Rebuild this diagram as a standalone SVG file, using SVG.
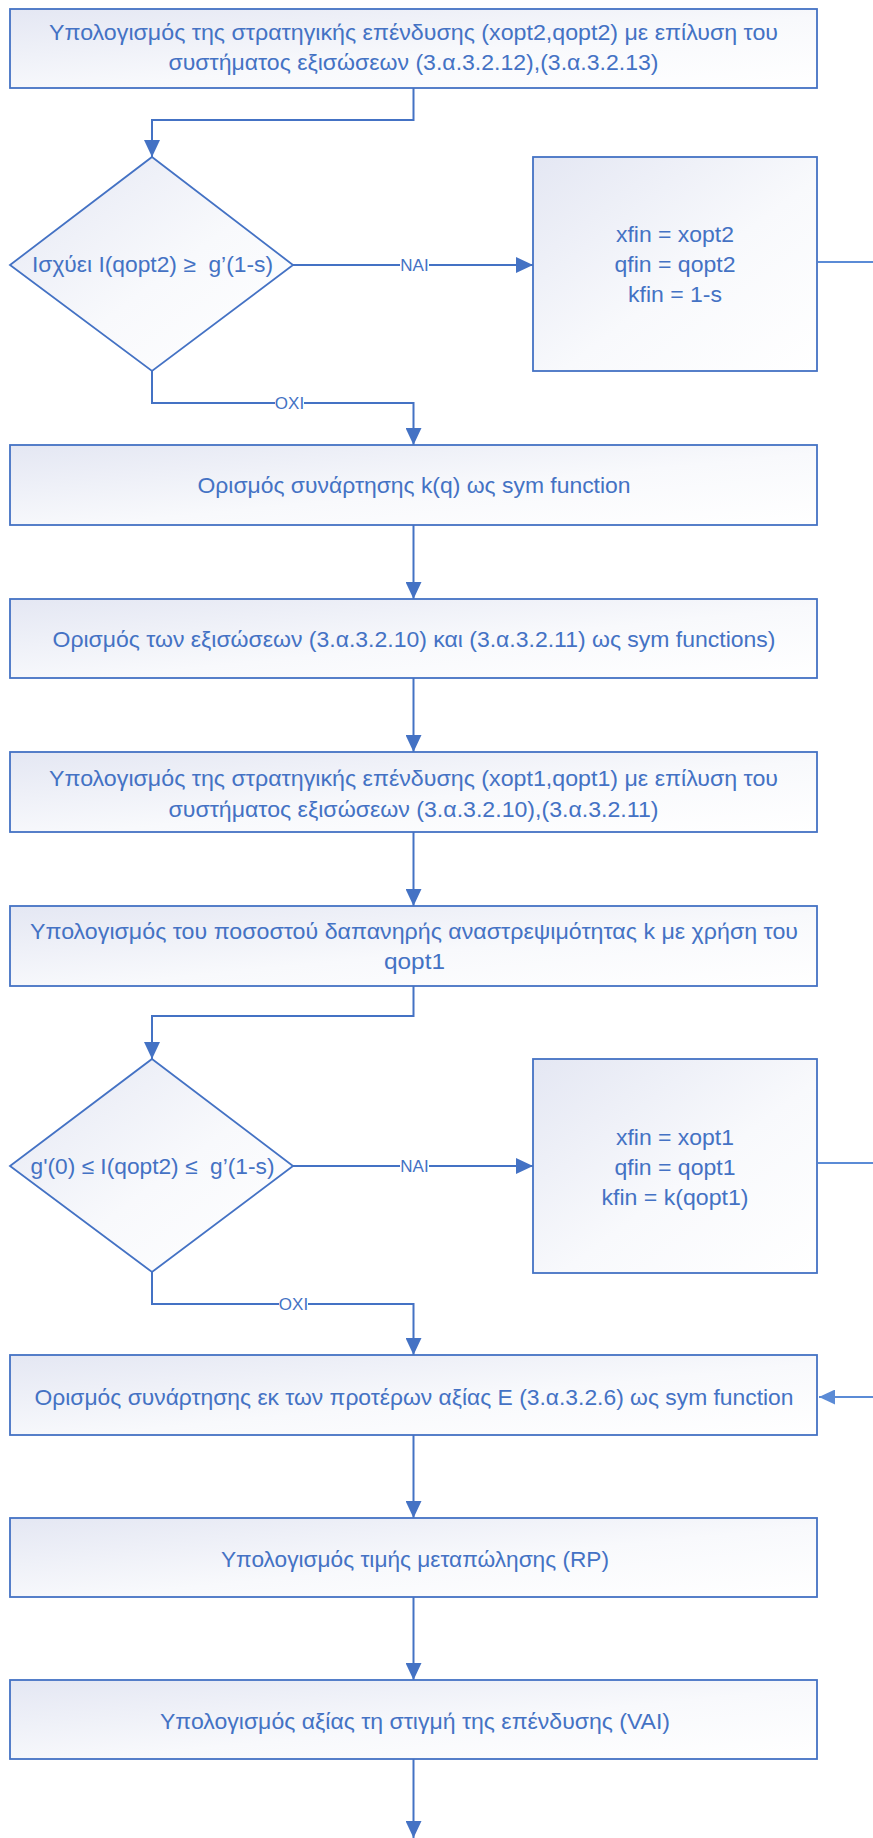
<svg xmlns="http://www.w3.org/2000/svg" width="873" height="1838" viewBox="0 0 873 1838">
  <style>
    .box { fill: url(#fillGrad); stroke: #4472C4; stroke-width: 1.8; }
    .txt { font-family: "Liberation Sans", Arial, sans-serif; font-size: 22px; fill: #4472C4; text-anchor: middle; white-space: pre; }
    .lbl { font-family: "Liberation Sans", Arial, sans-serif; font-size: 17px; fill: #4472C4; text-anchor: middle; }
    .lblbg { fill: #ffffff; }
    .edge { fill: none; stroke: #4472C4; stroke-width: 2; }
    .edge-out { fill: none; stroke: #5B8BD6; stroke-width: 2.2; }
  </style>
  <defs>
    <linearGradient id="fillGrad" x1="0" y1="0" x2="1" y2="1">
      <stop offset="0" stop-color="#e4e7f3"/>
      <stop offset="0.55" stop-color="#f8f9fc"/>
      <stop offset="1" stop-color="#ffffff"/>
    </linearGradient>
    <marker id="arrow" markerUnits="userSpaceOnUse" markerWidth="17" markerHeight="16" refX="17" refY="8" orient="auto">
      <path d="M0,0 L17,8 L0,16 z" fill="#4472C4"/>
    </marker>
    <marker id="arrowOut" markerUnits="userSpaceOnUse" markerWidth="16" markerHeight="15" refX="16" refY="7.5" orient="auto">
      <path d="M0,0 L16,7.5 L0,15 z" fill="#5B8BD6"/>
    </marker>
  </defs>

  <rect width="873" height="1838" fill="#ffffff"/>

  <!-- connectors -->
  <g id="connectors">
    <path class="edge" d="M413.5,88 V120 H152 V157" marker-end="url(#arrow)"/>
    <path class="edge" d="M293,265 H533" marker-end="url(#arrow)"/>
    <path class="edge" d="M152,371 V403 H413.5 V445" marker-end="url(#arrow)"/>
    <path class="edge" d="M413.5,525 V599" marker-end="url(#arrow)"/>
    <path class="edge" d="M413.5,678 V752" marker-end="url(#arrow)"/>
    <path class="edge" d="M413.5,832 V906" marker-end="url(#arrow)"/>
    <path class="edge" d="M413.5,986 V1016 H152 V1059" marker-end="url(#arrow)"/>
    <path class="edge" d="M293,1166 H533" marker-end="url(#arrow)"/>
    <path class="edge" d="M152,1272 V1304 H413.5 V1355" marker-end="url(#arrow)"/>
    <path class="edge" d="M413.5,1435 V1518" marker-end="url(#arrow)"/>
    <path class="edge" d="M413.5,1597 V1680" marker-end="url(#arrow)"/>
    <path class="edge" d="M413.5,1759 V1838" marker-end="url(#arrow)"/>
    <path class="edge-out" d="M818,262 H880"/>
    <path class="edge-out" d="M818,1163 H880"/>
    <path class="edge-out" d="M880,1397 H819" marker-end="url(#arrowOut)"/>

    <rect class="lblbg" x="400" y="256" width="29" height="18"/>
    <text class="lbl" x="414.5" y="271">NAI</text>
    <rect class="lblbg" x="275" y="394" width="29" height="18"/>
    <text class="lbl" x="289.5" y="409">OXI</text>
    <rect class="lblbg" x="400" y="1157" width="29" height="18"/>
    <text class="lbl" x="414.5" y="1172">NAI</text>
    <rect class="lblbg" x="279" y="1295" width="29" height="18"/>
    <text class="lbl" x="293.5" y="1310">OXI</text>
  </g>

  <!-- process: solve system 3.α.3.2.12 / 3.α.3.2.13 -->
  <g id="solve-opt2">
    <rect class="box" x="10" y="9" width="807" height="79"/>
    <text class="txt" x="413.5" y="40" textLength="729" lengthAdjust="spacingAndGlyphs">Υπολογισμός της στρατηγικής επένδυσης (xopt2,qopt2) με επίλυση του</text>
    <text class="txt" x="413.5" y="69.5" textLength="490" lengthAdjust="spacingAndGlyphs">συστήματος εξισώσεων (3.α.3.2.12),(3.α.3.2.13)</text>
  </g>

  <!-- decision 1 -->
  <g id="check-opt2">
    <path class="box" d="M152,157 L293,265 L152,371 L10,265 Z"/>
    <text class="txt" x="152.5" y="272" textLength="241" lengthAdjust="spacingAndGlyphs">Ισχύει I(qopt2) ≥  g’(1-s)</text>
  </g>

  <g id="result-opt2">
    <rect class="box" x="533" y="157" width="284" height="214"/>
    <text class="txt" x="675" y="241.5" textLength="118" lengthAdjust="spacingAndGlyphs">xfin = xopt2</text>
    <text class="txt" x="675" y="271.5" textLength="121" lengthAdjust="spacingAndGlyphs">qfin = qopt2</text>
    <text class="txt" x="675" y="301.5" textLength="94" lengthAdjust="spacingAndGlyphs">kfin = 1-s</text>
  </g>

  <g id="define-kq">
    <rect class="box" x="10" y="445" width="807" height="80"/>
    <text class="txt" x="414" y="492.5" textLength="433" lengthAdjust="spacingAndGlyphs">Ορισμός συνάρτησης k(q) ως sym function</text>
  </g>

  <g id="define-equations">
    <rect class="box" x="10" y="599" width="807" height="79"/>
    <text class="txt" x="414" y="647" textLength="723" lengthAdjust="spacingAndGlyphs">Ορισμός των εξισώσεων (3.α.3.2.10) και (3.α.3.2.11) ως sym functions)</text>
  </g>

  <g id="solve-opt1">
    <rect class="box" x="10" y="752" width="807" height="80"/>
    <text class="txt" x="413.5" y="785.5" textLength="729" lengthAdjust="spacingAndGlyphs">Υπολογισμός της στρατηγικής επένδυσης (xopt1,qopt1) με επίλυση του</text>
    <text class="txt" x="413.5" y="817" textLength="490" lengthAdjust="spacingAndGlyphs">συστήματος εξισώσεων (3.α.3.2.10),(3.α.3.2.11)</text>
  </g>

  <g id="compute-k">
    <rect class="box" x="10" y="906" width="807" height="80"/>
    <text class="txt" x="414" y="939" textLength="768" lengthAdjust="spacingAndGlyphs">Υπολογισμός του ποσοστού δαπανηρής αναστρεψιμότητας k με χρήση του</text>
    <text class="txt" x="414.5" y="969" textLength="61" lengthAdjust="spacingAndGlyphs">qopt1</text>
  </g>

  <!-- decision 2 -->
  <g id="check-range">
    <path class="box" d="M152,1059 L293,1166 L152,1272 L10,1166 Z"/>
    <text class="txt" x="152.5" y="1173.5" textLength="244" lengthAdjust="spacingAndGlyphs">g'(0) ≤ I(qopt2) ≤  g’(1-s)</text>
  </g>

  <g id="result-opt1">
    <rect class="box" x="533" y="1059" width="284" height="214"/>
    <text class="txt" x="675" y="1144.5" textLength="118" lengthAdjust="spacingAndGlyphs">xfin = xopt1</text>
    <text class="txt" x="675" y="1174.5" textLength="121" lengthAdjust="spacingAndGlyphs">qfin = qopt1</text>
    <text class="txt" x="675" y="1204.5" textLength="147" lengthAdjust="spacingAndGlyphs">kfin = k(qopt1)</text>
  </g>

  <g id="define-expected-value">
    <rect class="box" x="10" y="1355" width="807" height="80"/>
    <text class="txt" x="414" y="1404.5" textLength="759" lengthAdjust="spacingAndGlyphs">Ορισμός συνάρτησης εκ των προτέρων αξίας E (3.α.3.2.6) ως sym function</text>
  </g>

  <g id="resale-price">
    <rect class="box" x="10" y="1518" width="807" height="79"/>
    <text class="txt" x="415" y="1566.5" textLength="388" lengthAdjust="spacingAndGlyphs">Υπολογισμός τιμής μεταπώλησης (RP)</text>
  </g>

  <g id="value-at-investment">
    <rect class="box" x="10" y="1680" width="807" height="79"/>
    <text class="txt" x="415" y="1729" textLength="510" lengthAdjust="spacingAndGlyphs">Υπολογισμός αξίας τη στιγμή της επένδυσης (VAI)</text>
  </g>
</svg>
